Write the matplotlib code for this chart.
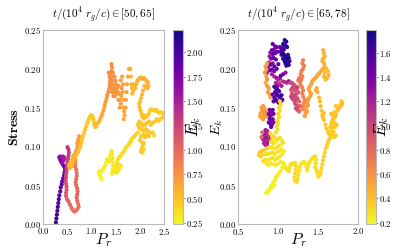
import matplotlib
matplotlib.use("Agg")
import matplotlib.pyplot as plt
from matplotlib.ticker import FuncFormatter

plt.rcParams["mathtext.fontset"] = "cm"
plt.rcParams["font.family"] = "serif"
plt.rcParams["font.serif"] = ["DejaVu Serif"]

# ---------------- panel 1: t in [50, 65] ----------------
pr_a = [
    # purple strand
    0.26, 0.27, 0.28, 0.29, 0.30, 0.31, 0.32, 0.33, 0.35, 0.36, 0.38, 0.39, 0.41, 0.43,
    0.44, 0.45, 0.43, 0.40, 0.37, 0.35, 0.33, 0.35, 0.38, 0.41, 0.44, 0.42, 0.39,
    # magenta strand + lower loop
    0.50, 0.52, 0.53, 0.52, 0.51, 0.50, 0.49, 0.48, 0.48, 0.47, 0.47, 0.46, 0.47, 0.48,
    0.48, 0.47, 0.47, 0.49, 0.52, 0.55, 0.58, 0.61, 0.64, 0.67, 0.70, 0.73, 0.72, 0.70,
    0.69, 0.70, 0.71, 0.70, 0.68, 0.67, 0.68, 0.69, 0.69, 0.68, 0.66, 0.66,
    # orange strand
    0.66, 0.65, 0.66, 0.68, 0.70, 0.71, 0.72, 0.73, 0.74, 0.72, 0.70,
    # yellow-orange path up to the orange cluster
    0.62, 0.60, 0.58, 0.55, 0.53, 0.55, 0.58, 0.60, 0.63, 0.66, 0.69, 0.72, 0.75, 0.77,
    0.79, 0.80, 0.82, 0.84, 0.86, 0.88, 0.90, 0.92, 0.94, 0.96, 0.98, 1.00, 1.02, 1.04,
    1.05, 1.06, 1.08, 1.10, 1.12, 1.14, 1.16, 1.18, 1.20, 1.22, 1.24, 1.26, 1.27, 1.29,
    1.31, 1.32, 1.34, 1.36, 1.37, 1.38, 1.39, 1.40, 1.41, 1.42, 1.41,
    # orange cluster
    1.35, 1.37, 1.38, 1.40, 1.42, 1.43, 1.44, 1.40, 1.42, 1.44, 1.45, 1.46, 1.45, 1.48,
    1.47, 1.49, 1.50, 1.50, 1.48,
    1.52, 1.53, 1.55, 1.54, 1.56, 1.57, 1.58, 1.58, 1.60, 1.61, 1.62, 1.60, 1.63, 1.65,
    1.64, 1.66, 1.65, 1.67, 1.68, 1.66, 1.70, 1.71, 1.72, 1.73, 1.75, 1.77,
    # yellow-orange strand and arc
    1.80, 1.81, 1.82, 1.83, 1.84, 1.86, 1.87, 1.88, 1.90, 1.92, 1.94,
    1.96, 1.99, 2.02, 2.05, 2.08, 2.11, 2.14, 2.16, 2.17, 2.15, 2.12, 2.09,
    2.06, 2.04, 2.02, 2.00, 1.98, 1.99, 2.01,
    # yellow-orange cluster
    2.03, 2.05, 2.08, 2.10, 2.12, 2.15, 2.18, 2.20, 2.23, 2.26, 2.30, 2.33, 2.36, 2.40,
    2.44, 2.47, 2.49, 2.46, 2.42, 2.38, 2.35, 2.30, 2.25, 2.22, 2.18, 2.14, 2.10, 2.06,
    2.02, 1.98, 1.95, 1.98, 2.03, 2.08, 2.12, 2.16, 2.20, 2.18, 2.14, 2.10, 2.06, 2.02,
    2.00, 2.04, 2.08, 2.05, 2.03, 2.02, 2.05, 2.08, 2.26, 2.29,
    # yellow path to the left
    1.96, 1.92, 1.88, 1.85, 1.82, 1.80, 1.78, 1.76, 1.73, 1.70, 1.68, 1.66, 1.63, 1.60,
    1.57, 1.55, 1.53, 1.51, 1.50, 1.52, 1.55, 1.58, 1.60, 1.57, 1.54, 1.51, 1.48, 1.46,
    1.44, 1.42, 1.43, 1.44, 1.42, 1.43, 1.42, 1.41, 1.39, 1.38, 1.37, 1.34, 1.31, 1.30,
    1.28, 1.26, 1.24, 1.22, 1.20, 1.18, 1.16, 1.15, 1.17, 1.19, 1.20,
]
stress_a = [
    0.002, 0.007, 0.012, 0.017, 0.022, 0.027, 0.032, 0.037, 0.042, 0.047, 0.051, 0.055, 0.059, 0.063,
    0.067, 0.071, 0.074, 0.077, 0.080, 0.083, 0.086, 0.087, 0.086, 0.087, 0.085, 0.082, 0.079,
    0.099, 0.096, 0.092, 0.088, 0.084, 0.080, 0.076, 0.072, 0.068, 0.064, 0.060, 0.056, 0.052, 0.048,
    0.044, 0.040, 0.036, 0.032, 0.029, 0.025, 0.021, 0.018, 0.016, 0.017, 0.019, 0.022, 0.026, 0.030,
    0.034, 0.038, 0.042, 0.046, 0.050, 0.054, 0.058, 0.062, 0.066, 0.070, 0.074, 0.078,
    0.082, 0.086, 0.090, 0.094, 0.098, 0.102, 0.106, 0.110, 0.113, 0.108, 0.104,
    0.088, 0.084, 0.080, 0.078, 0.075, 0.072, 0.074, 0.078, 0.082, 0.085, 0.089, 0.093, 0.097, 0.101,
    0.105, 0.109, 0.113, 0.117, 0.121, 0.125, 0.129, 0.132, 0.135, 0.138, 0.140, 0.140, 0.138, 0.134,
    0.130, 0.127, 0.125, 0.127, 0.130, 0.131, 0.133, 0.136, 0.139, 0.142, 0.146, 0.150, 0.154, 0.158,
    0.162, 0.166, 0.170, 0.174, 0.178, 0.182, 0.187, 0.192, 0.197, 0.202, 0.206,
    0.195, 0.190, 0.185, 0.180, 0.185, 0.190, 0.195, 0.175, 0.170, 0.175, 0.180, 0.170, 0.165, 0.175,
    0.190, 0.185, 0.180, 0.170, 0.165,
    0.175, 0.168, 0.160, 0.170, 0.178, 0.168, 0.160, 0.150, 0.155, 0.165, 0.175, 0.185, 0.190, 0.180,
    0.170, 0.160, 0.150, 0.145, 0.140, 0.135, 0.150, 0.160, 0.170, 0.180, 0.190, 0.200,
    0.200, 0.190, 0.180, 0.175, 0.168, 0.172, 0.180, 0.178, 0.175, 0.180, 0.184,
    0.186, 0.188, 0.189, 0.187, 0.188, 0.186, 0.184, 0.182, 0.178, 0.175, 0.176, 0.178,
    0.172, 0.167, 0.162, 0.158, 0.155, 0.150, 0.146,
    0.142, 0.138, 0.136, 0.140, 0.138, 0.140, 0.142, 0.146, 0.148, 0.147, 0.146, 0.147, 0.145, 0.143,
    0.144, 0.143, 0.140, 0.137, 0.135, 0.133, 0.135, 0.132, 0.130, 0.128, 0.132, 0.130, 0.128, 0.127,
    0.130, 0.132, 0.128, 0.124, 0.122, 0.120, 0.122, 0.120, 0.118, 0.113, 0.115, 0.112, 0.115, 0.113,
    0.108, 0.105, 0.104, 0.100, 0.097, 0.093, 0.092, 0.096, 0.118, 0.114,
    0.118, 0.116, 0.113, 0.111, 0.109, 0.106, 0.104, 0.102, 0.100, 0.098, 0.095, 0.093, 0.091, 0.088,
    0.086, 0.084, 0.081, 0.078, 0.075, 0.072, 0.074, 0.076, 0.075, 0.071, 0.068, 0.066, 0.068, 0.070,
    0.067, 0.065, 0.070, 0.075, 0.080, 0.085, 0.090, 0.094, 0.090, 0.086, 0.082, 0.080, 0.083, 0.079,
    0.076, 0.073, 0.071, 0.070, 0.068, 0.067, 0.068, 0.066, 0.063, 0.060, 0.058,
]
ek_a = [
    2.05, 2.05, 2.00, 2.00, 2.00, 1.98, 1.95, 1.95, 1.92, 1.90, 1.90, 1.88, 1.85, 1.85,
    1.82, 1.80, 1.80, 1.78, 1.75, 1.75, 1.70, 1.65, 1.60, 1.55, 1.50, 1.55, 1.60,
    1.35, 1.35, 1.30, 1.30, 1.30, 1.28, 1.25, 1.25, 1.22, 1.20, 1.20, 1.18, 1.15, 1.15,
    1.12, 1.10, 1.10, 1.05, 1.05, 1.00, 1.00, 0.95, 0.95, 0.95, 0.95, 0.95, 0.97, 1.00,
    1.00, 1.02, 1.02, 1.00, 1.00, 1.00, 0.98, 0.98, 0.95, 0.95, 0.92, 0.90,
    0.85, 0.80, 0.78, 0.75, 0.72, 0.70, 0.70, 0.70, 0.70, 0.68, 0.65,
    0.60, 0.55, 0.52, 0.50, 0.50, 0.52, 0.55, 0.55, 0.55, 0.55, 0.50, 0.50, 0.50, 0.50,
    0.48, 0.48, 0.48, 0.47, 0.47, 0.47, 0.46, 0.46, 0.46, 0.45, 0.45, 0.45, 0.46, 0.47,
    0.48, 0.50, 0.50, 0.52, 0.55, 0.55, 0.58, 0.60, 0.60, 0.62, 0.65, 0.65, 0.68, 0.70,
    0.70, 0.72, 0.72, 0.75, 0.75, 0.75, 0.77, 0.77, 0.78, 0.78, 0.78,
    0.76, 0.76, 0.75, 0.76, 0.77, 0.75, 0.76, 0.74, 0.75, 0.74, 0.73, 0.74, 0.75, 0.73,
    0.74, 0.72, 0.73, 0.72, 0.74,
    0.72, 0.71, 0.70, 0.72, 0.71, 0.70, 0.69, 0.70, 0.68, 0.70, 0.69, 0.70, 0.68, 0.67,
    0.68, 0.66, 0.65, 0.64, 0.65, 0.64, 0.66, 0.65, 0.64, 0.63, 0.63, 0.62,
    0.60, 0.58, 0.58, 0.57, 0.56, 0.57, 0.56, 0.55, 0.56, 0.57, 0.58,
    0.58, 0.59, 0.60, 0.60, 0.59, 0.60, 0.58, 0.58, 0.57, 0.57, 0.58, 0.57,
    0.56, 0.55, 0.54, 0.53, 0.52, 0.51, 0.50,
    0.50, 0.49, 0.48, 0.48, 0.47, 0.47, 0.46, 0.46, 0.45, 0.45, 0.46, 0.45, 0.45, 0.44,
    0.44, 0.44, 0.43, 0.44, 0.45, 0.45, 0.46, 0.47, 0.48, 0.48, 0.47, 0.48, 0.49, 0.49,
    0.48, 0.47, 0.47, 0.48, 0.49, 0.48, 0.47, 0.47, 0.46, 0.46, 0.47, 0.47, 0.46, 0.46,
    0.45, 0.45, 0.44, 0.44, 0.43, 0.43, 0.42, 0.42, 0.42, 0.42,
    0.42, 0.41, 0.41, 0.40, 0.40, 0.40, 0.39, 0.39, 0.38, 0.38, 0.38, 0.37, 0.37, 0.36,
    0.36, 0.36, 0.35, 0.35, 0.35, 0.34, 0.34, 0.34, 0.34, 0.33, 0.33, 0.33, 0.32, 0.32,
    0.32, 0.31, 0.32, 0.32, 0.31, 0.31, 0.31, 0.31, 0.30, 0.30, 0.30, 0.30, 0.30, 0.29,
    0.29, 0.29, 0.28, 0.28, 0.28, 0.27, 0.27, 0.27, 0.27, 0.26, 0.26,
]

# ---------------- panel 2: t in [65, 78] ----------------
pr_b = [
    # dark navy cluster
    1.08, 1.10, 1.06, 1.09, 1.11, 1.05, 1.07, 1.03, 1.04, 1.06, 1.08, 1.10, 1.12, 1.13,
    1.11, 1.08, 1.06, 1.09, 1.12, 1.14, 1.13, 1.10, 1.04, 1.02,
    # purple cluster, upper left
    0.93, 0.96, 0.98, 0.95, 0.92, 0.90, 0.93, 0.96, 0.99, 0.89, 0.91, 0.94, 0.97, 0.88,
    0.90, 0.93, 0.95, 0.87, 0.89, 0.92, 0.95, 0.98, 1.00, 0.86,
    # magenta band
    0.92, 0.95, 0.98, 1.00, 1.02, 1.05, 1.08, 1.11, 1.13, 1.15, 1.03, 0.97, 0.99, 1.01,
    1.04, 1.06, 1.09,
    # orange dots left edge
    0.86, 0.84, 0.85, 0.83, 0.85, 0.86, 0.84, 0.86, 0.88, 0.87, 0.89, 0.90,
    # purple middle cluster
    0.95, 0.97, 0.99, 1.01, 0.96, 0.98, 1.00, 1.02, 1.04, 0.95, 0.97, 0.99, 1.01, 1.03,
    0.93, 1.05, 0.94,
    # yellow branch
    1.02, 1.03, 1.01, 1.02, 1.00, 1.01, 0.99, 1.00, 0.98, 0.99, 0.97,
    # orange cluster left
    0.79, 0.81, 0.83, 0.80, 0.78, 0.80, 0.82, 0.84, 0.79, 0.81, 0.83, 0.85, 0.77,
    # purple lower cluster
    0.89, 0.91, 0.93, 0.88, 0.90, 0.92, 0.94, 0.89, 0.91, 0.93, 0.88, 0.90, 0.92, 0.94,
    0.91,
    # magenta cluster
    0.84, 0.86, 0.83, 0.85, 0.87, 0.82, 0.84, 0.86, 0.88, 0.81, 0.83, 0.85, 0.87, 0.82,
    0.84, 0.86, 0.89, 0.80, 0.79,
    # yellow lower cluster
    0.90, 0.92, 0.95, 0.93, 0.91, 0.94, 0.97, 0.99, 1.02, 1.04, 1.06, 1.03, 1.00, 0.97,
    0.94, 0.91, 0.88, 0.85, 0.82, 0.79, 0.77, 0.76, 0.78, 0.80, 0.83, 0.86, 0.89, 0.92,
    0.95, 0.98, 1.01, 1.04, 1.07, 1.05, 1.02, 0.99, 0.96, 0.93, 0.90, 0.87, 0.84, 0.81,
    0.85, 0.88, 0.91, 0.94, 0.97, 1.00, 1.03, 1.06, 1.08, 1.05,
    # yellow bottom strand
    1.03, 1.01, 0.99, 0.97, 0.96, 0.94, 0.93, 0.91, 0.90, 0.88, 0.86, 0.85, 0.87, 0.89,
    0.92, 0.95,
    # lower wiggly path
    1.09, 1.11, 1.13, 1.14, 1.15, 1.17, 1.19, 1.21, 1.22, 1.22, 1.21, 1.20, 1.21, 1.23,
    1.24, 1.25, 1.26, 1.27, 1.28, 1.30, 1.32, 1.34, 1.35, 1.36, 1.37, 1.38, 1.40, 1.42,
    1.44, 1.46, 1.47, 1.47, 1.46, 1.48, 1.49, 1.50, 1.52, 1.53, 1.54, 1.55, 1.56, 1.57,
    1.58, 1.59, 1.61, 1.62,
    # right yellow cluster
    1.63, 1.65, 1.64, 1.66, 1.68, 1.70, 1.72, 1.69, 1.67, 1.65, 1.68, 1.71, 1.73, 1.70,
    1.67, 1.66, 1.69, 1.71, 1.68, 1.66, 1.70, 1.72, 1.74, 1.76, 1.78, 1.80, 1.79, 1.77,
    1.74, 1.72, 1.63,
    # dotted path down to the cluster
    1.51, 1.52, 1.53, 1.54, 1.55, 1.57, 1.59, 1.60, 1.62, 1.57, 1.56,
    # yellow-orange arc
    1.56, 1.57, 1.58, 1.56, 1.55, 1.57, 1.58, 1.56, 1.54, 1.52, 1.50, 1.48, 1.46, 1.44,
    1.42, 1.41, 1.39, 1.38, 1.39, 1.41, 1.40, 1.38, 1.37, 1.36, 1.37, 1.35, 1.34, 1.36,
    1.34, 1.33, 1.49, 1.48, 1.47, 1.57, 1.59, 1.58, 1.60, 1.62, 1.63, 1.61,
    # orange strand
    1.31, 1.30, 1.32, 1.31, 1.29, 1.28, 1.30, 1.29, 1.27, 1.28, 1.30, 1.31, 1.30, 1.31,
    1.33, 1.32, 1.31, 1.30, 1.26, 1.25,
    # pink cluster
    1.17, 1.19, 1.21, 1.18, 1.16, 1.20, 1.22, 1.24, 1.17, 1.19, 1.21, 1.23, 1.25, 1.18,
    1.20, 1.22, 1.24, 1.26, 1.21, 1.23, 1.25, 1.24, 1.26, 1.22, 1.27, 1.16,
]
stress_b = [
    0.237, 0.235, 0.232, 0.230, 0.228, 0.227, 0.225, 0.222, 0.218, 0.220, 0.217, 0.215, 0.218, 0.214,
    0.211, 0.210, 0.213, 0.207, 0.208, 0.210, 0.205, 0.204, 0.226, 0.228,
    0.232, 0.229, 0.228, 0.225, 0.224, 0.221, 0.219, 0.220, 0.222, 0.216, 0.213, 0.214, 0.212, 0.208,
    0.205, 0.207, 0.203, 0.201, 0.198, 0.199, 0.197, 0.200, 0.206, 0.195,
    0.193, 0.190, 0.188, 0.186, 0.188, 0.184, 0.183, 0.182, 0.184, 0.182, 0.191, 0.182, 0.178, 0.181,
    0.178, 0.193, 0.195,
    0.207, 0.203, 0.199, 0.195, 0.190, 0.186, 0.182, 0.178, 0.175, 0.170, 0.167, 0.163,
    0.177, 0.175, 0.173, 0.171, 0.170, 0.167, 0.165, 0.163, 0.166, 0.163, 0.160, 0.158, 0.156, 0.158,
    0.167, 0.160, 0.158,
    0.158, 0.154, 0.150, 0.146, 0.142, 0.138, 0.134, 0.130, 0.126, 0.122, 0.118,
    0.150, 0.152, 0.149, 0.146, 0.143, 0.140, 0.142, 0.145, 0.137, 0.135, 0.138, 0.140, 0.139,
    0.147, 0.145, 0.147, 0.142, 0.140, 0.141, 0.142, 0.136, 0.134, 0.135, 0.131, 0.129, 0.128, 0.131,
    0.125,
    0.121, 0.120, 0.117, 0.116, 0.117, 0.113, 0.112, 0.111, 0.113, 0.109, 0.107, 0.106, 0.107, 0.104,
    0.102, 0.103, 0.109, 0.118, 0.112,
    0.117, 0.114, 0.112, 0.109, 0.106, 0.104, 0.106, 0.109, 0.111, 0.108, 0.105, 0.102, 0.100, 0.098,
    0.097, 0.099, 0.098, 0.097, 0.095, 0.094, 0.092, 0.089, 0.087, 0.089, 0.090, 0.090, 0.091, 0.092,
    0.090, 0.092, 0.094, 0.096, 0.094, 0.090, 0.087, 0.085, 0.083, 0.085, 0.084, 0.082, 0.083, 0.081,
    0.078, 0.076, 0.078, 0.077, 0.076, 0.078, 0.080, 0.079, 0.076, 0.073,
    0.068, 0.066, 0.063, 0.060, 0.057, 0.054, 0.051, 0.049, 0.046, 0.044, 0.042, 0.040, 0.041, 0.043,
    0.047, 0.050,
    0.072, 0.070, 0.068, 0.072, 0.076, 0.078, 0.077, 0.079, 0.075, 0.070, 0.065, 0.060, 0.056, 0.054,
    0.058, 0.063, 0.068, 0.073, 0.077, 0.079, 0.080, 0.078, 0.074, 0.069, 0.073, 0.078, 0.081, 0.084,
    0.086, 0.087, 0.083, 0.078, 0.073, 0.069, 0.065, 0.061, 0.063, 0.067, 0.072, 0.077, 0.082, 0.087,
    0.092, 0.097, 0.101, 0.105,
    0.108, 0.111, 0.115, 0.118, 0.115, 0.112, 0.114, 0.119, 0.122, 0.125, 0.127, 0.125, 0.128, 0.131,
    0.133, 0.129, 0.136, 0.138, 0.140, 0.142, 0.144, 0.141, 0.146, 0.149, 0.152, 0.155, 0.158, 0.153,
    0.150, 0.152, 0.119,
    0.163, 0.158, 0.152, 0.146, 0.140, 0.134, 0.128, 0.123, 0.118, 0.143, 0.137,
    0.224, 0.220, 0.216, 0.213, 0.210, 0.207, 0.203, 0.200, 0.198, 0.195, 0.193, 0.190, 0.188, 0.186,
    0.183, 0.180, 0.177, 0.174, 0.171, 0.168, 0.165, 0.162, 0.159, 0.156, 0.153, 0.150, 0.147, 0.145,
    0.142, 0.139, 0.170, 0.175, 0.172, 0.190, 0.186, 0.195, 0.200, 0.197, 0.192, 0.188,
    0.211, 0.207, 0.204, 0.200, 0.197, 0.193, 0.190, 0.186, 0.183, 0.179, 0.176, 0.172, 0.168, 0.164,
    0.160, 0.156, 0.152, 0.148, 0.188, 0.185,
    0.182, 0.180, 0.178, 0.176, 0.173, 0.172, 0.174, 0.176, 0.168, 0.166, 0.165, 0.168, 0.170, 0.161,
    0.159, 0.160, 0.162, 0.158, 0.155, 0.153, 0.151, 0.147, 0.145, 0.149, 0.152, 0.164,
]
ek_b = [
    1.72, 1.70, 1.75, 1.68, 1.65, 1.74, 1.70, 1.62, 1.66, 1.72, 1.76, 1.70, 1.68, 1.72,
    1.76, 1.74, 1.66, 1.72, 1.70, 1.66, 1.74, 1.68, 1.60, 1.55,
    1.45, 1.50, 1.40, 1.35, 1.52, 1.30, 1.48, 1.55, 1.42, 1.25, 1.38, 1.50, 1.45, 1.32,
    1.48, 1.35, 1.55, 1.28, 1.40, 1.50, 1.35, 1.45, 1.55, 1.20,
    1.20, 1.15, 1.30, 1.10, 1.25, 1.05, 1.15, 1.10, 1.30, 1.00, 1.45, 1.20, 1.35, 1.10,
    1.25, 1.40, 1.30,
    0.55, 0.58, 0.52, 0.60, 0.55, 0.62, 0.50, 0.58, 0.55, 0.60, 0.52, 0.48,
    1.62, 1.55, 1.65, 1.58, 1.50, 1.68, 1.60, 1.55, 1.62, 1.52, 1.66, 1.58, 1.64, 1.55,
    1.48, 1.60, 1.55,
    0.32, 0.30, 0.33, 0.30, 0.32, 0.30, 0.31, 0.29, 0.31, 0.30, 0.29,
    0.55, 0.58, 0.52, 0.60, 0.55, 0.50, 0.57, 0.62, 0.53, 0.58, 0.55, 0.60, 0.50,
    1.45, 1.40, 1.50, 1.42, 1.52, 1.38, 1.45, 1.50, 1.42, 1.48, 1.40, 1.52, 1.45, 1.38,
    1.48,
    1.25, 1.20, 1.28, 1.22, 1.18, 1.25, 1.20, 1.28, 1.15, 1.22, 1.18, 1.25, 1.20, 1.15,
    1.22, 1.18, 1.10, 0.80, 0.82,
    0.30, 0.28, 0.32, 0.27, 0.30, 0.28, 0.26, 0.30, 0.28, 0.26, 0.29, 0.27, 0.30, 0.28,
    0.26, 0.29, 0.30, 0.33, 0.35, 0.38, 0.40, 0.38, 0.35, 0.32, 0.30, 0.28, 0.27, 0.29,
    0.27, 0.26, 0.28, 0.27, 0.25, 0.27, 0.26, 0.28, 0.26, 0.27, 0.28, 0.26, 0.27, 0.28,
    0.26, 0.25, 0.26, 0.25, 0.26, 0.25, 0.24, 0.25, 0.24, 0.24,
    0.24, 0.23, 0.23, 0.23, 0.22, 0.22, 0.22, 0.22, 0.21, 0.21, 0.21, 0.21, 0.21, 0.22,
    0.22, 0.22,
    0.26, 0.27, 0.27, 0.28, 0.28, 0.29, 0.29, 0.30, 0.30, 0.30, 0.31, 0.31, 0.30, 0.30,
    0.30, 0.29, 0.29, 0.28, 0.28, 0.28, 0.27, 0.27, 0.27, 0.27, 0.28, 0.28, 0.28, 0.29,
    0.29, 0.30, 0.30, 0.30, 0.31, 0.31, 0.31, 0.32, 0.32, 0.32, 0.33, 0.33, 0.33, 0.34,
    0.34, 0.34, 0.35, 0.35,
    0.35, 0.36, 0.36, 0.36, 0.35, 0.35, 0.36, 0.37, 0.37, 0.36, 0.37, 0.37, 0.38, 0.38,
    0.37, 0.37, 0.38, 0.38, 0.38, 0.39, 0.39, 0.38, 0.39, 0.40, 0.40, 0.41, 0.41, 0.40,
    0.40, 0.39, 0.36,
    0.42, 0.41, 0.41, 0.40, 0.40, 0.39, 0.38, 0.38, 0.37, 0.40, 0.40,
    0.45, 0.46, 0.46, 0.47, 0.47, 0.48, 0.48, 0.48, 0.49, 0.49, 0.50, 0.50, 0.51, 0.51,
    0.52, 0.52, 0.52, 0.53, 0.53, 0.53, 0.54, 0.54, 0.54, 0.55, 0.55, 0.55, 0.56, 0.56,
    0.56, 0.57, 0.48, 0.48, 0.49, 0.45, 0.44, 0.44, 0.43, 0.43, 0.44, 0.45,
    0.68, 0.70, 0.68, 0.70, 0.72, 0.70, 0.68, 0.70, 0.72, 0.70, 0.68, 0.70, 0.68, 0.66,
    0.66, 0.65, 0.66, 0.65, 0.72, 0.74,
    0.95, 0.98, 0.92, 1.00, 0.95, 0.90, 0.96, 1.02, 0.95, 0.92, 1.00, 0.94, 0.90, 0.98,
    0.93, 1.00, 0.95, 0.88, 0.96, 0.92, 0.90, 0.94, 0.88, 0.97, 0.86, 1.02,
]

assert len(pr_a) == len(stress_a) == len(ek_a), (len(pr_a), len(stress_a), len(ek_a))
assert len(pr_b) == len(stress_b) == len(ek_b), (len(pr_b), len(stress_b), len(ek_b))

titles = [r"$t/(10^4\ r_g/c) \in [50, 65]$", r"$t/(10^4\ r_g/c) \in [65, 78]$"]
xlims = [(0.0, 2.5), (0.5, 2.0)]
xticks = [[0.0, 0.5, 1.0, 1.5, 2.0, 2.5], [0.5, 1.0, 1.5, 2.0]]
yticks = [0.00, 0.05, 0.10, 0.15, 0.20, 0.25]
clims = [(0.235, 2.23), (0.19, 1.787)]
cticks = [[0.25, 0.50, 0.75, 1.00, 1.25, 1.50, 1.75, 2.00],
          [0.2, 0.4, 0.6, 0.8, 1.0, 1.2, 1.4, 1.6]]
cfmt = ["{:.2f}", "{:.1f}"]
ylabels = [r"$\mathbf{Stress}$", r"$E_k$"]

W, H = 415, 249
fig = plt.figure(figsize=(W / 100, H / 100), dpi=100)
GREY = "#b8b8b8"

ax_boxes = [(43.3, 164.3), (238.3, 358.3)]
cb_boxes = [(172.7, 182.7), (365.7, 375.7)]
y_top, y_bot = 30, 224

data = [(pr_a, stress_a, ek_a), (pr_b, stress_b, ek_b)]

def bold_fmt(fmt):
    return FuncFormatter(lambda v, p: r"$\mathbf{" + fmt.format(v) + "}$")

for i in range(2):
    x0, x1 = ax_boxes[i]
    ax = fig.add_axes([x0 / W, (H - y_bot) / H, (x1 - x0) / W, (y_bot - y_top) / H])
    pr, st, ek = data[i]
    sc = ax.scatter(pr, st, c=ek, cmap="plasma_r", vmin=clims[i][0], vmax=clims[i][1],
                    s=9, linewidths=0)
    ax.set_xlim(*xlims[i])
    ax.set_ylim(0, 0.25)
    ax.set_xticks(xticks[i])
    ax.set_yticks(yticks)
    ax.xaxis.set_major_formatter(bold_fmt("{:.1f}"))
    ax.yaxis.set_major_formatter(bold_fmt("{:.2f}"))
    ax.tick_params(length=0, pad=1.5, labelsize=6.3)
    for sp in ax.spines.values():
        sp.set_color(GREY)
        sp.set_linewidth(0.8)
    ax.set_xlabel(r"$P_r$", fontsize=11.5, labelpad=-4)
    ax.set_ylabel(ylabels[i], fontsize=10, labelpad=2 if i == 0 else -4)
    ax.set_title(titles[i], fontsize=8, pad=9)

    c0, c1 = cb_boxes[i]
    cax = fig.add_axes([c0 / W, (H - y_bot) / H, (c1 - c0) / W, (y_bot - y_top) / H])
    cb = fig.colorbar(sc, cax=cax)
    cb.set_ticks(cticks[i])
    cb.ax.yaxis.set_major_formatter(bold_fmt(cfmt[i]))
    cb.ax.tick_params(length=1.5, width=0.5, pad=1, labelsize=6.3, color="#555555")
    cb.outline.set_edgecolor(GREY)
    cb.outline.set_linewidth(0.8)
    cb.set_label(r"$E_k$", fontsize=12, labelpad=-14)

fig.savefig("out.png", dpi=100)
